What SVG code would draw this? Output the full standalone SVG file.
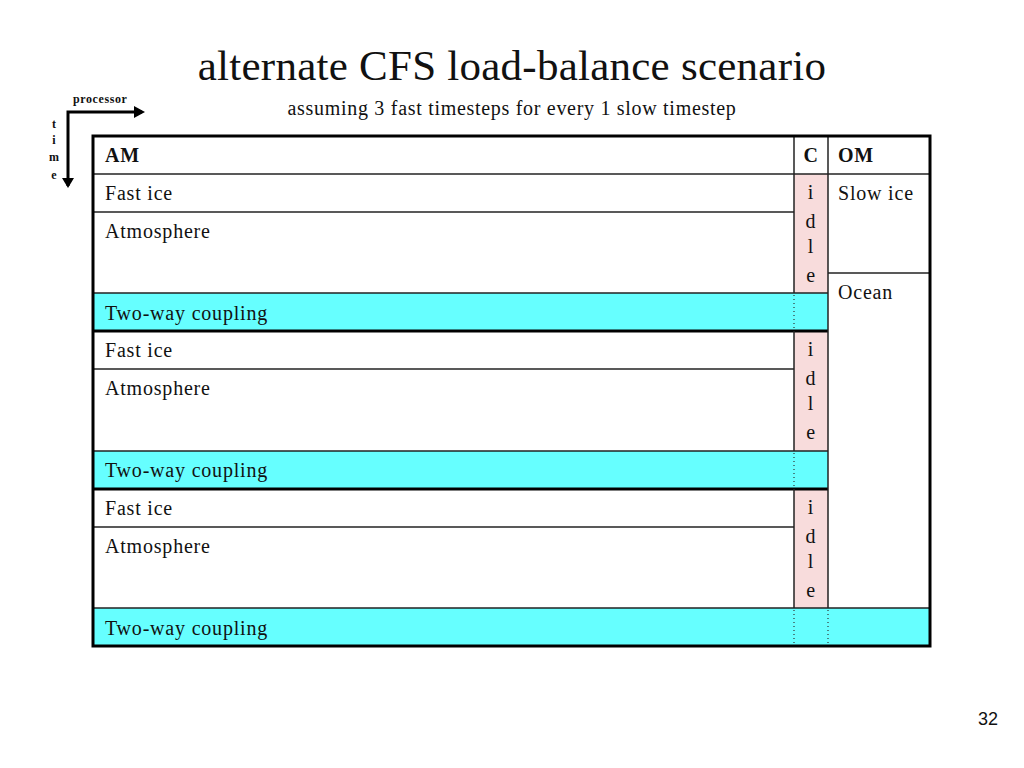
<svg xmlns="http://www.w3.org/2000/svg" width="1024" height="768" viewBox="0 0 1024 768">
<defs>
<style>
.t{font-family:"Liberation Serif","Times New Roman",serif;fill:#111;}
.cell{font-size:20px;letter-spacing:0.8px;}
.thin{stroke:#222;stroke-width:1.5;fill:none;}
.thick{stroke:#000;stroke-width:3;fill:none;}
.dot{stroke:#333;stroke-width:1.2;stroke-dasharray:1 3;fill:none;}
.cyan{fill:#66FFFF;}
.pink{fill:#F8DCDC;}
</style>
</defs>
<rect width="1024" height="768" fill="#fff"/>

<g id="title">
<text class="t" x="512" y="80" font-size="43" letter-spacing="0.25" text-anchor="middle">alternate CFS load-balance scenario</text>
<text class="t" x="512" y="115" font-size="20" letter-spacing="0.7" text-anchor="middle">assuming 3 fast timesteps for every 1 slow timestep</text>
</g>

<g id="axes">
<path d="M68,186 L68,112 L142,112" stroke="#000" stroke-width="3" fill="none"/>
<path d="M134,106 L145,112 L134,118 z" fill="#000"/>
<path d="M62,178 L68,188 L74,178 z" fill="#000"/>
<text class="t" x="73" y="103" font-size="12" font-weight="bold" letter-spacing="0.6">processor</text>
<g class="t" font-size="12" font-weight="bold" text-anchor="middle">
<text x="54" y="128">t</text>
<text x="54" y="144">i</text>
<text x="54" y="161">m</text>
<text x="54" y="179">e</text>
</g>
</g>

<g id="backgrounds">
<rect class="cyan" x="93" y="293" width="735" height="38"/>
<rect class="cyan" x="93" y="451" width="735" height="38"/>
<rect class="cyan" x="93" y="608" width="837" height="38"/>
<rect class="pink" x="794" y="174" width="34" height="119"/>
<rect class="pink" x="794" y="331" width="34" height="120"/>
<rect class="pink" x="794" y="489" width="34" height="119"/>
</g>

<g id="grid">
<line class="thin" x1="93" y1="174" x2="930" y2="174"/>
<line class="thin" x1="93" y1="212" x2="794" y2="212"/>
<line class="thin" x1="828" y1="273" x2="930" y2="273"/>
<line class="thin" x1="93" y1="293" x2="828" y2="293"/>
<line class="thin" x1="93" y1="369" x2="794" y2="369"/>
<line class="thin" x1="93" y1="451" x2="828" y2="451"/>
<line class="thin" x1="93" y1="527" x2="794" y2="527"/>
<line class="thin" x1="93" y1="608" x2="930" y2="608"/>
<line class="thick" x1="93" y1="331" x2="828" y2="331"/>
<line class="thick" x1="93" y1="489" x2="828" y2="489"/>
<line class="thin" x1="794" y1="136" x2="794" y2="293"/>
<line class="thin" x1="794" y1="331" x2="794" y2="451"/>
<line class="thin" x1="794" y1="489" x2="794" y2="608"/>
<line class="thin" x1="828" y1="136" x2="828" y2="608"/>
<line class="dot" x1="794" y1="295" x2="794" y2="330"/>
<line class="dot" x1="794" y1="453" x2="794" y2="488"/>
<line class="dot" x1="794" y1="610" x2="794" y2="645"/>
<line class="dot" x1="828" y1="610" x2="828" y2="645"/>
<rect class="thick" x="93" y="136" width="837" height="510"/>
</g>

<g id="header">
<text class="t cell" x="105" y="162" font-weight="bold">AM</text>
<text class="t cell" x="811" y="162" font-weight="bold" text-anchor="middle">C</text>
<text class="t cell" x="838" y="162" font-weight="bold">OM</text>
</g>

<g id="block1">
<text class="t cell" x="105" y="200">Fast ice</text>
<text class="t cell" x="105" y="238">Atmosphere</text>
<text class="t cell" x="105" y="320">Two-way coupling</text>
<g class="t cell" text-anchor="middle">
<text x="811" y="199">i</text><text x="811" y="228">d</text><text x="811" y="253">l</text><text x="811" y="282">e</text>
</g>
</g>
<g id="block2">
<text class="t cell" x="105" y="357">Fast ice</text>
<text class="t cell" x="105" y="395">Atmosphere</text>
<text class="t cell" x="105" y="477">Two-way coupling</text>
<g class="t cell" text-anchor="middle">
<text x="811" y="356">i</text><text x="811" y="385">d</text><text x="811" y="410">l</text><text x="811" y="439">e</text>
</g>
</g>
<g id="block3">
<text class="t cell" x="105" y="515">Fast ice</text>
<text class="t cell" x="105" y="553">Atmosphere</text>
<text class="t cell" x="105" y="635">Two-way coupling</text>
<g class="t cell" text-anchor="middle">
<text x="811" y="514">i</text><text x="811" y="543">d</text><text x="811" y="568">l</text><text x="811" y="597">e</text>
</g>
</g>
<g id="om">
<text class="t cell" x="838" y="200">Slow ice</text>
<text class="t cell" x="838" y="299">Ocean</text>
</g>

<text id="page" x="998" y="725" font-family="Liberation Sans, Arial, sans-serif" font-size="18" fill="#111" text-anchor="end">32</text>
</svg>
